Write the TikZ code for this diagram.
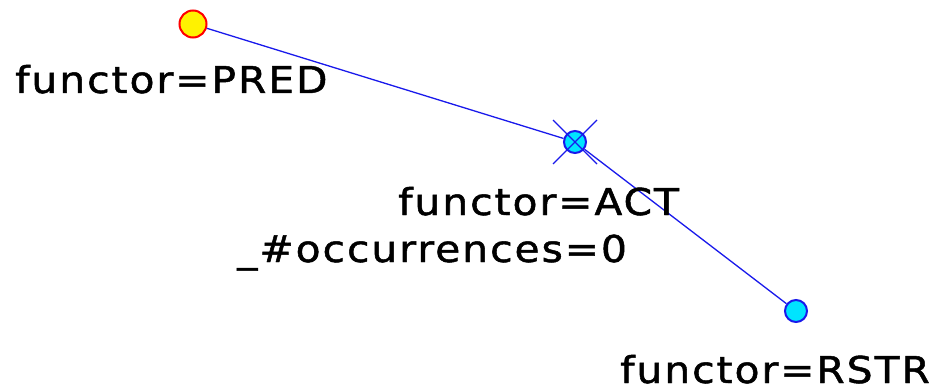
\documentclass[tikz,border=0pt]{standalone}
\usepackage{fontspec}
\usepackage{xcolor}
\usepackage{tikz}
\usetikzlibrary{positioning}
\newfontfamily\labelfont{DejaVu Sans}[LetterSpace=5, FakeBold=1.3]
\definecolor{edgeblue}{RGB}{25, 25, 235}
\definecolor{nodecyan}{RGB}{0, 228, 255}
\newcommand{\attrline}[1]{\scalebox{1.1}[1]{#1}}
\tikzset{
  rootnode/.style={circle, draw=red, fill=yellow, line width=2pt, minimum size=27pt, inner sep=0pt},
  plainnode/.style={circle, draw=edgeblue, fill=nodecyan, line width=2pt, minimum size=22pt, inner sep=0pt},
  attrtext/.style={font=\labelfont\fontsize{37}{40}\selectfont, inner sep=0pt, anchor=base west},
  treeedge/.style={edgeblue, line width=1.3pt}
}

\begin{document}
\begin{tikzpicture}[x=1pt, y=-1pt]
    \useasboundingbox (0,0) rectangle (942,390);
    \node[rootnode] (pred) at (193,24) {};
    \node[plainnode] (act) at (575,142) {};
    \node[plainnode] (rstr) at (796,311) {};
    \draw[treeedge] (pred) -- (act);
    \draw[treeedge] (act) -- (rstr);
    % cross marks the ACT node
    \coordinate (crossnw) at (553,120);
    \coordinate (crossse) at (597,164);
    \coordinate (crossne) at (597,120);
    \coordinate (crosssw) at (553,164);
    \draw[treeedge] (crossnw) -- (crossse);
    \draw[treeedge] (crossne) -- (crosssw);
    \node[attrtext] (predlabel) at (15,93) {\attrline{functor=PRED}};
    \node[attrtext] (actlabel) at (398,215) {\attrline{functor=ACT}};
    \node[attrtext] (actcount) at (237,262) {\attrline{\_\#occurrences=0}};
    \node[attrtext] (rstrlabel) at (620,383) {\attrline{functor=RSTR}};
\end{tikzpicture}
\end{document}
